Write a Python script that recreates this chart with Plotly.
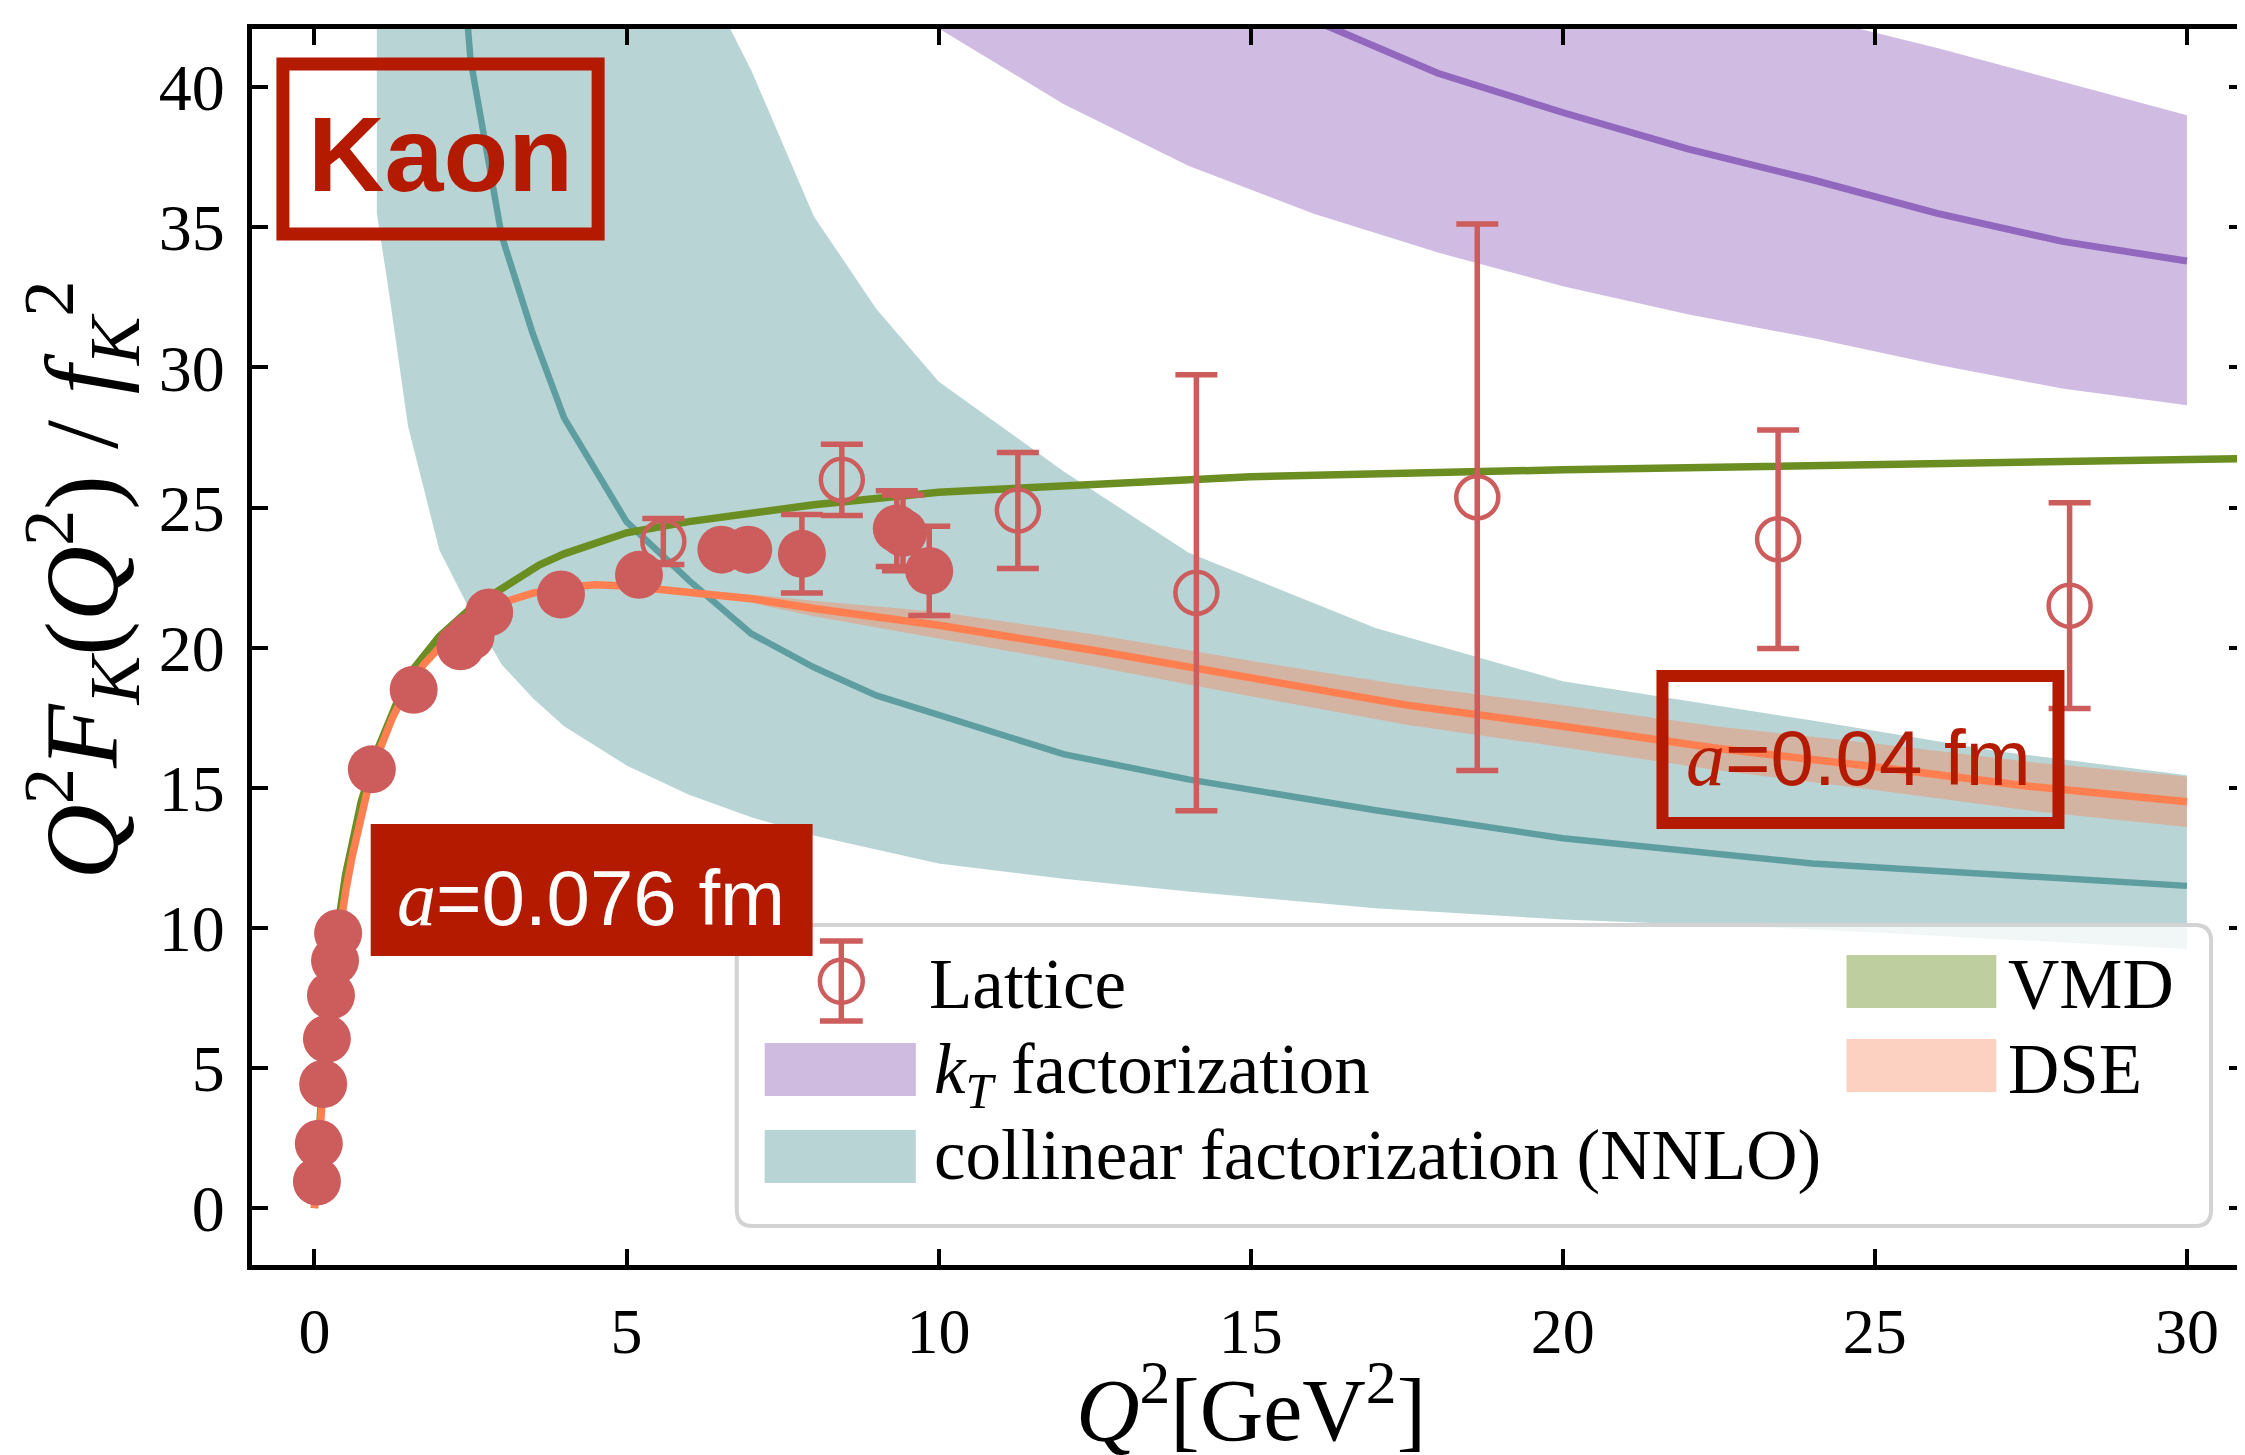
import plotly.graph_objects as go

# ---------------- data ----------------
# collinear factorization (NNLO) band + central curve
coll_x = [1.0, 1.2, 1.5, 2.0, 2.5, 3.0, 3.5, 4.0, 5.0, 6.0, 7.0, 8.0, 9.0, 10.0, 12.0, 14.0, 17.0, 20.0, 24.0, 27.0, 30.0]
coll_hi = [130, 118, 104, 88, 77, 69, 62, 57, 50, 45, 40.6, 35.4, 32.1, 29.5, 26.3, 23.4, 20.7, 18.8, 17.4, 16.3, 15.45]
coll_lo = [35.5, 32.6, 27.9, 23.5, 21.3, 19.4, 18.2, 17.2, 15.8, 14.75, 13.95, 13.3, 12.8, 12.3, 11.75, 11.3, 10.7, 10.3, 9.95, 9.6, 9.25]
coll_mid = [110, 95, 78, 55, 41.0, 34.7, 31.2, 28.2, 24.5, 22.4, 20.5, 19.3, 18.3, 17.6, 16.2, 15.3, 14.2, 13.2, 12.3, 11.9, 11.5]

# kT factorization band + central curve
kt_x = [10, 12, 14, 16, 18, 20, 22, 24, 26, 28, 30]
kt_hi = [58, 54, 51, 48.5, 46.3, 44.6, 43.3, 42.5, 41.4, 40.2, 39.0]
kt_lo = [42.1, 39.4, 37.2, 35.5, 34.1, 32.9, 31.9, 31.05, 30.1, 29.25, 28.65]
kt_mid = [50, 47, 44.5, 42.4, 40.5, 39.1, 37.8, 36.7, 35.5, 34.5, 33.8]

# VMD curve
vmd_x = [0, 0.1, 0.2, 0.3, 0.5, 0.75, 1.0, 1.5, 2.0, 2.5, 3.0, 3.6, 4.0, 5.0, 6.0, 8.0, 10.0, 12.5, 15.0, 20.0, 25.0, 31.0]
vmd_y = [0, 4.0, 6.9, 8.9, 11.9, 14.5, 16.3, 19.0, 20.4, 21.4, 22.1, 22.95, 23.35, 24.1, 24.5, 25.1, 25.55, 25.85, 26.1, 26.35, 26.55, 26.75]

# DSE curve + band
dse_x = [0, 0.05, 0.1, 0.2, 0.3, 0.4, 0.5, 0.6, 0.75, 0.9, 1.0, 1.25, 1.5, 1.75, 2.0, 2.5, 3.0, 3.5, 4.0, 4.5,
         5.0, 6.0, 7.0, 8.0, 9.0, 10.0, 12.5, 15.0, 17.5, 20.0, 22.5, 25.0, 27.5, 30.0]
dse_y = [0, 1.6, 3.5, 6.2, 8.3, 10.0, 11.3, 12.5, 14.1, 15.4, 16.1, 17.5, 18.6, 19.4, 20.0, 20.9, 21.6, 21.95, 22.15, 22.25,
         22.2, 22.0, 21.75, 21.4, 21.1, 20.8, 19.9, 18.9, 17.95, 17.2, 16.4, 15.75, 15.05, 14.5]
dse_band_x = [5.0, 6.0, 7.0, 8.0, 9.0, 10.0, 12.5, 15.0, 17.5, 20.0, 22.5, 25.0, 27.5, 30.0]
dse_band_lo = [22.15, 21.92, 21.6, 21.12, 20.73, 20.33, 19.33, 18.27, 17.25, 16.45, 15.62, 14.92, 14.18, 13.6]
dse_band_hi = [22.25, 22.08, 21.9, 21.68, 21.47, 21.27, 20.47, 19.53, 18.65, 17.95, 17.18, 16.58, 15.92, 15.4]

# Lattice, a = 0.076 fm (filled)
fine_x = [0.04, 0.07, 0.14, 0.2, 0.265, 0.33, 0.38, 0.92, 1.59, 2.34, 2.5, 2.8, 3.95, 5.2, 6.52, 6.95, 7.81, 9.33, 9.43, 9.85]
fine_y = [0.95, 2.3, 4.43, 6.04, 7.59, 8.83, 9.81, 15.66, 18.5, 20.05, 20.4, 21.26, 21.9, 22.6, 23.5, 23.5, 23.35, 24.25, 24.1, 22.74]
fine_err = [0, 0, 0, 0, 0, 0, 0, 0, 0, 0, 0, 0, 0, 0, 0, 0, 1.4, 1.35, 1.35, 1.59]

# Lattice, a = 0.04 fm (open)
coarse_x = [5.59, 8.45, 11.27, 14.13, 18.63, 23.45, 28.12]
coarse_y = [23.79, 25.99, 24.9, 21.96, 25.37, 23.87, 21.5]
coarse_err = [0.82, 1.27, 2.07, 7.78, 9.75, 3.9, 3.67]

x_ticks = [0, 5, 10, 15, 20, 25, 30]
y_ticks = [0, 5, 10, 15, 20, 25, 30, 35, 40]

legend_labels = ["Lattice", "<i>k</i><sub><i>T</i></sub> factorization", "collinear factorization (NNLO)", "VMD", "DSE"]

# ---------------- colours ----------------
C_LAT = "#CD5C5C"
C_TEAL = "#5F9EA0"
C_PURP = "#9268BE"
C_GREEN = "#6B8E23"
C_CORAL = "#FF7F50"
C_RED = "#B41A00"

# ---------------- geometry ----------------
W, H = 2245, 1455
L, R, T, B = 244, 2242, 21, 1257


def px(x):
    return (x - L) / (R - L)


def py(y):
    return (B - y) / (B - T)


fig = go.Figure()

# bands
fig.add_trace(go.Scatter(x=coll_x + coll_x[::-1], y=coll_hi + coll_lo[::-1], fill="toself",
                         fillcolor="rgba(95,158,160,0.44)", line=dict(width=0), mode="lines",
                         hoverinfo="skip", showlegend=False))
fig.add_trace(go.Scatter(x=kt_x + kt_x[::-1], y=kt_hi + kt_lo[::-1], fill="toself",
                         fillcolor="rgba(148,103,189,0.44)", line=dict(width=0), mode="lines",
                         hoverinfo="skip", showlegend=False))
# central curves
fig.add_trace(go.Scatter(x=coll_x, y=coll_mid, mode="lines", line=dict(color=C_TEAL, width=6.5), showlegend=False))
fig.add_trace(go.Scatter(x=kt_x, y=kt_mid, mode="lines", line=dict(color=C_PURP, width=7), showlegend=False))
fig.add_trace(go.Scatter(x=vmd_x, y=vmd_y, mode="lines", line=dict(color=C_GREEN, width=7.5), showlegend=False))
fig.add_trace(go.Scatter(x=dse_band_x + dse_band_x[::-1], y=dse_band_hi + dse_band_lo[::-1], fill="toself",
                         fillcolor="rgba(255,127,80,0.38)", line=dict(width=0), mode="lines",
                         hoverinfo="skip", showlegend=False))
fig.add_trace(go.Scatter(x=dse_x, y=dse_y, mode="lines", line=dict(color=C_CORAL, width=7.5), showlegend=False))

# lattice points
fig.add_trace(go.Scatter(x=coarse_x, y=coarse_y, mode="markers",
                         marker=dict(symbol="circle-open", size=42, color=C_LAT, line=dict(width=4.5, color=C_LAT)),
                         error_y=dict(type="data", array=coarse_err, color=C_LAT, thickness=5.5, width=21),
                         showlegend=False))
fig.add_trace(go.Scatter(x=fine_x, y=fine_y, mode="markers",
                         marker=dict(symbol="circle", size=48, color=C_LAT, line=dict(width=0)),
                         error_y=dict(type="data", array=fine_err, color=C_LAT, thickness=5.5, width=21),
                         showlegend=False))

axis_common = dict(showline=True, linecolor="black", linewidth=5, mirror="ticks", ticks="inside",
                   ticklen=16, tickwidth=3.5, tickcolor="black", showgrid=False, zeroline=False)
fig.update_xaxes(range=[-1.0, 30.93], tickvals=x_ticks, ticktext=[str(v) for v in x_ticks],
                 ticklabelstandoff=6, tickfont=dict(family="Liberation Serif", size=64, color="black"),
                 **axis_common)
fig.update_yaxes(range=[-2.03, 42.08], tickvals=y_ticks, ticktext=[str(v) for v in y_ticks],
                 ticklabelstandoff=9, tickfont=dict(family="Liberation Serif", size=66, color="black"),
                 **axis_common)

shapes = []
annots = []


def rect(x0, y0, x1, y1, **kw):
    d = dict(type="rect", xref="paper", yref="paper", x0=px(x0), x1=px(x1), y0=py(y1), y1=py(y0), layer="above")
    d.update(kw)
    shapes.append(d)


def seg(x0, y0, x1, y1, color, width):
    shapes.append(dict(type="line", xref="paper", yref="paper", x0=px(x0), x1=px(x1), y0=py(y0), y1=py(y1),
                       line=dict(color=color, width=width), layer="above"))


def text(xp, yp, s, size, color="black", family="Liberation Serif", xanchor="left", yanchor="middle", angle=0):
    annots.append(dict(xref="paper", yref="paper", x=px(xp), y=py(yp), text=s, showarrow=False,
                       xanchor=xanchor, yanchor=yanchor, textangle=angle,
                       font=dict(family=family, size=size, color=color)))


# Kaon box
rect(275, 56, 591, 226, line=dict(color=C_RED, width=13), fillcolor="rgba(0,0,0,0)")
# a = 0.04 fm box
rect(1658, 668, 2055, 815, line=dict(color=C_RED, width=12), fillcolor="rgba(0,0,0,0)")

# legend frame (rounded)
lx0, ly0, lx1, ly1, rr = 730, 917, 2208, 1218, 16
path = (f"M {px(lx0 + rr)},{py(ly0)} L {px(lx1 - rr)},{py(ly0)} Q {px(lx1)},{py(ly0)} {px(lx1)},{py(ly0 + rr)} "
        f"L {px(lx1)},{py(ly1 - rr)} Q {px(lx1)},{py(ly1)} {px(lx1 - rr)},{py(ly1)} "
        f"L {px(lx0 + rr)},{py(ly1)} Q {px(lx0)},{py(ly1)} {px(lx0)},{py(ly1 - rr)} "
        f"L {px(lx0)},{py(ly0 + rr)} Q {px(lx0)},{py(ly0)} {px(lx0 + rr)},{py(ly0)} Z")
shapes.append(dict(type="path", xref="paper", yref="paper", path=path, layer="above",
                   fillcolor="rgba(255,255,255,0.8)", line=dict(color="#D3D3D3", width=4)))
# legend patches
rect(758, 1035, 909.5, 1088, fillcolor="#CFBAE0", line=dict(width=0))
rect(758, 1122, 909.5, 1175, fillcolor="#B8D4D5", line=dict(width=0))
rect(1842.5, 947, 1992.7, 1000, fillcolor="#BFCE9E", line=dict(width=0))
rect(1842.5, 1031, 1992.7, 1084, fillcolor="#FDD1C1", line=dict(width=0))
# legend lattice symbol
cx, cy = 834.8, 973.3
seg(cx, 933, cx, 1013, C_LAT, 5.5)
seg(cx - 21.5, 933, cx + 21.5, 933, C_LAT, 5.5)
seg(cx - 21.5, 1013, cx + 21.5, 1013, C_LAT, 5.5)
shapes.append(dict(type="circle", xref="paper", yref="paper", x0=px(cx - 21.5), x1=px(cx + 21.5),
                   y0=py(cy + 21.5), y1=py(cy - 21.5), line=dict(color=C_LAT, width=4.5),
                   fillcolor="rgba(0,0,0,0)", layer="above"))

# a = 0.076 fm filled box (on top of legend frame)
rect(363, 816, 806, 948, fillcolor=C_RED, line=dict(width=0))

# legend texts
text(921, 976, legend_labels[0], 71)
text(925.7, 1066, legend_labels[1], 71)
text(925.7, 1147, legend_labels[2], 71)
text(2002, 976, legend_labels[3], 71)
text(2002, 1061, legend_labels[4], 71)

# in-plot labels
text(432.5, 146, "<b>Kaon</b>", 106, color=C_RED, family="Liberation Sans", xanchor="center")
text(584, 890, '<span style="font-family:Liberation Serif;font-style:italic">a</span>=0.076 fm', 78,
     color="white", family="Liberation Sans", xanchor="center")
text(1855, 750, '<span style="font-family:Liberation Serif;font-style:italic">a</span>=0.04 fm', 78,
     color=C_RED, family="Liberation Sans", xanchor="center")

# axis titles
text(1246, 1453, "<i>Q</i><sup>2</sup>[GeV<sup>2</sup>]", 88, xanchor="center", yanchor="bottom")
text(74, 572, "<i>Q</i><sup>2</sup><i>F</i><sub><i>K</i></sub>(<i>Q</i><sup>2</sup>) / <i>f</i><sub><i>K</i></sub><sup>2</sup>",
     104, xanchor="center", angle=-90)

fig.update_layout(width=W, height=H, autosize=False,
                  margin=dict(l=L, r=W - R, t=T, b=H - B, pad=0),
                  plot_bgcolor="white", paper_bgcolor="white",
                  shapes=shapes, annotations=annots, showlegend=False)

fig.write_html("out.html")
